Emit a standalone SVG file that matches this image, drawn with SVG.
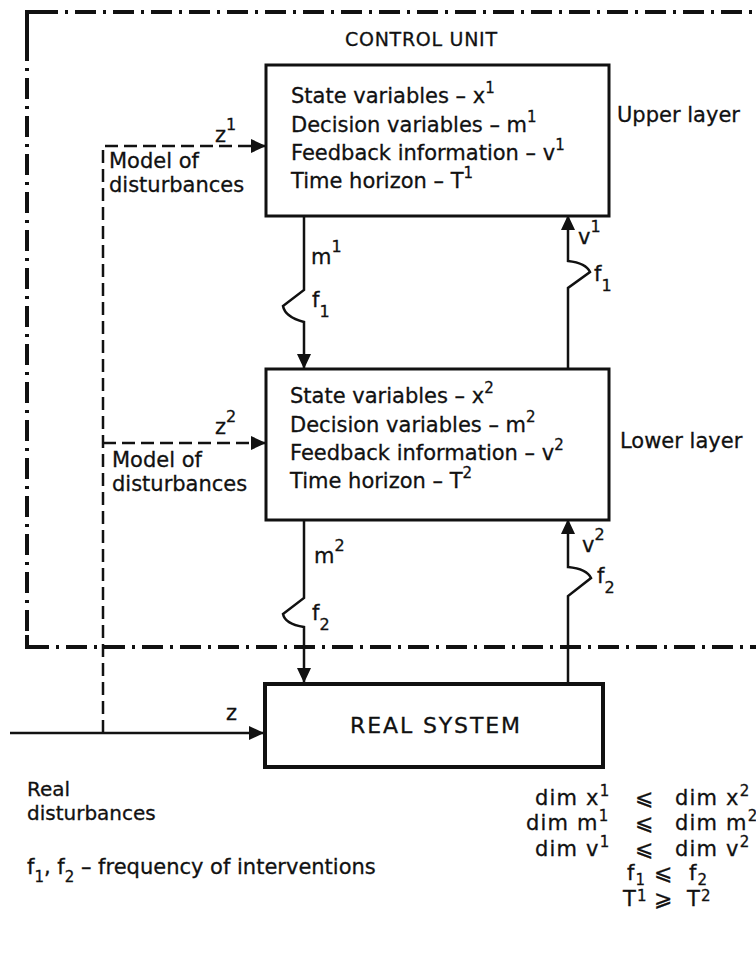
<svg xmlns="http://www.w3.org/2000/svg" width="756" height="962" viewBox="0 0 756 962">
  <style>
    text { font-family: "DejaVu Sans", "Liberation Sans", sans-serif; fill: #111; stroke: #111; stroke-width: 0.3; }
    .body { font-size: 21px; }
    .small { font-size: 20px; }
    .rel { font-size: 21px; letter-spacing: 1.2px; }
    .sym { font-size: 22px; }
    .box { fill: #fff; stroke: #111; stroke-width: 3; }
    .real { fill: #fff; stroke: #111; stroke-width: 4; }
    .solid { fill: none; stroke: #111; stroke-width: 2.5; }
    .dashed { fill: none; stroke: #111; stroke-width: 2.5; stroke-dasharray: 13 6; }
    .frame { fill: none; stroke: #111; stroke-width: 4; stroke-dasharray: 21 7 3 7; }
    .corner { fill: none; stroke: #111; stroke-width: 4; }
  </style>
  <defs>
    <marker id="head" markerUnits="userSpaceOnUse" markerWidth="16" markerHeight="14" refX="15" refY="7" orient="auto">
      <path d="M0,0 L15,7 L0,14 Z" fill="#111" stroke="none"/>
    </marker>
  </defs>
  <rect width="756" height="962" fill="#fff"/>

  <!-- control unit boundary (dash-dot) -->
  <g id="control-unit">
    <path class="frame" d="M27,40 V12 H760"/>
    <path class="frame" d="M27,40 V647 H760"/>
    <path class="corner" d="M27,24 V12 H40"/>
    <path class="corner" d="M27,635 V647 H40"/>
    <text x="345" y="46" font-size="19" textLength="152">CONTROL UNIT</text>
  </g>

  <!-- connectors -->
  <g id="connectors">
    <path class="dashed" d="M103,733 V146 H266" marker-end="url(#head)"/>
    <path class="dashed" d="M103,443 H266" marker-end="url(#head)"/>
    <path class="solid" d="M10,733 H264" marker-end="url(#head)"/>
    <path class="solid" d="M304,216 V290 L283,306 Q285,317 304,322 V369" marker-end="url(#head)"/>
    <path class="solid" d="M568,369 V288 L590,272 Q586,263 568,261 V215" marker-end="url(#head)"/>
    <path class="solid" d="M304,520 V598 L283,614 Q285,624 304,627 V683" marker-end="url(#head)"/>
    <path class="solid" d="M568,683 V596 L591,578 Q587,569 568,567 V519" marker-end="url(#head)"/>

    <text class="body" x="215" y="142">z<tspan dy="-12" font-size="16">1</tspan></text>
    <text class="body" x="215" y="434">z<tspan dy="-12" font-size="16">2</tspan></text>
    <text class="body" x="226" y="720">z</text>
    <text class="body" x="311" y="264">m<tspan dy="-12" font-size="16">1</tspan></text>
    <text class="body" x="312" y="307">f<tspan dy="10" font-size="16">1</tspan></text>
    <text class="body" x="578" y="244">v<tspan dy="-12" font-size="16">1</tspan></text>
    <text class="body" x="594" y="281">f<tspan dy="10" font-size="16">1</tspan></text>
    <text class="body" x="314" y="563">m<tspan dy="-12" font-size="16">2</tspan></text>
    <text class="body" x="312" y="620">f<tspan dy="10" font-size="16">2</tspan></text>
    <text class="body" x="582" y="552">v<tspan dy="-12" font-size="16">2</tspan></text>
    <text class="body" x="597" y="583">f<tspan dy="10" font-size="16">2</tspan></text>

    <text class="body" x="109" y="168">Model of</text>
    <text class="body" x="109" y="192">disturbances</text>
    <text class="body" x="112" y="467">Model of</text>
    <text class="body" x="112" y="491">disturbances</text>
    <text class="small" x="27" y="796">Real</text>
    <text class="small" x="27" y="820">disturbances</text>
  </g>

  <!-- upper layer -->
  <g id="upper-layer">
    <rect class="box" x="266" y="65" width="343" height="151"/>
    <text class="body" x="291" y="103">State variables – x<tspan dy="-10" font-size="15">1</tspan></text>
    <text class="body" x="291" y="132">Decision variables – m<tspan dy="-10" font-size="15">1</tspan></text>
    <text class="body" x="291" y="160">Feedback information – v<tspan dy="-10" font-size="15">1</tspan></text>
    <text class="body" x="291" y="188">Time horizon – T<tspan dy="-10" font-size="15">1</tspan></text>
    <text class="body" x="617" y="122">Upper layer</text>
  </g>

  <!-- lower layer -->
  <g id="lower-layer">
    <rect class="box" x="266" y="369" width="343" height="151"/>
    <text class="body" x="290" y="403">State variables – x<tspan dy="-10" font-size="15">2</tspan></text>
    <text class="body" x="290" y="432">Decision variables – m<tspan dy="-10" font-size="15">2</tspan></text>
    <text class="body" x="290" y="460">Feedback information – v<tspan dy="-10" font-size="15">2</tspan></text>
    <text class="body" x="290" y="488">Time horizon – T<tspan dy="-10" font-size="15">2</tspan></text>
    <text class="body" x="620" y="448">Lower layer</text>
  </g>

  <!-- real system -->
  <g id="real-system">
    <rect class="real" x="265" y="684" width="338" height="83"/>
    <text x="350" y="733" font-size="22" textLength="170">REAL SYSTEM</text>
  </g>

  <!-- legend and relations -->
  <g id="legend">
    <text class="body" x="27" y="874">f<tspan dy="8" font-size="15">1</tspan><tspan dy="-8">, f</tspan><tspan dy="8" font-size="15">2</tspan><tspan dy="-8"> – frequency of interventions</tspan></text>
  </g>
  <g id="relations">
    <text class="rel" x="535" y="805">dim x<tspan dy="-9" font-size="15">1</tspan></text>
    <text class="sym" x="635" y="805">⩽</text>
    <text class="rel" x="675" y="805">dim x<tspan dy="-9" font-size="15">2</tspan></text>
    <text class="rel" x="526" y="830">dim m<tspan dy="-9" font-size="15">1</tspan></text>
    <text class="sym" x="635" y="830">⩽</text>
    <text class="rel" x="675" y="830">dim m<tspan dy="-9" font-size="15">2</tspan></text>
    <text class="rel" x="535" y="856">dim v<tspan dy="-9" font-size="15">1</tspan></text>
    <text class="sym" x="635" y="856">⩽</text>
    <text class="rel" x="675" y="856">dim v<tspan dy="-9" font-size="15">2</tspan></text>
    <text class="rel" x="627" y="880">f<tspan dy="5" font-size="15">1</tspan></text>
    <text class="sym" x="654" y="880">⩽</text>
    <text class="rel" x="689" y="880">f<tspan dy="5" font-size="15">2</tspan></text>
    <text class="rel" x="623" y="906">T<tspan dy="-5" font-size="15">1</tspan></text>
    <text class="sym" x="654" y="906">⩾</text>
    <text class="rel" x="687" y="906">T<tspan dy="-5" font-size="15">2</tspan></text>
  </g>
</svg>
